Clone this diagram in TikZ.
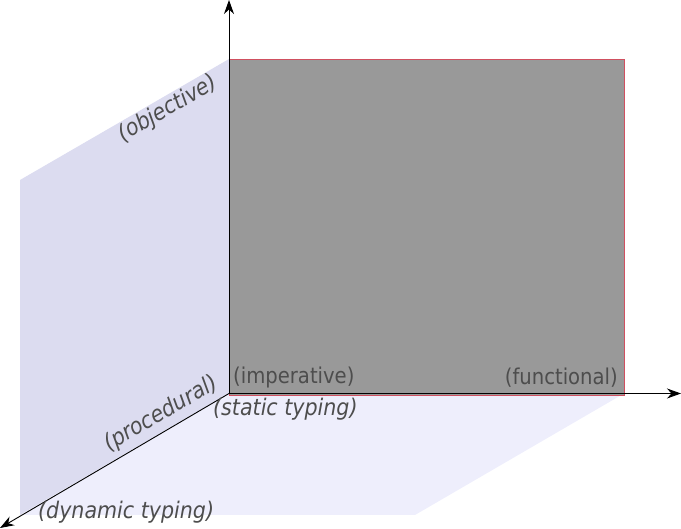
\documentclass[tikz,border=0pt]{standalone}
\usepackage{fontspec}
\setmainfont{DejaVu Sans Condensed}
\usetikzlibrary{arrows.meta}
\definecolor{sideplane}{HTML}{DCDCF0}
\definecolor{floorplane}{HTML}{EEEEFC}
\definecolor{wallgray}{HTML}{999999}
\definecolor{labelgray}{HTML}{4D4D4D}
\definecolor{edgered}{HTML}{D05060}
\tikzset{
  axis/.style={line width=0.9pt,-{Stealth[length=14pt,width=10pt,inset=4.5pt]}},
  lbl/.style={text=labelgray,font=\fontsize{21.8}{23}\selectfont,inner sep=0pt},
  ilbl/.style={lbl,font=\fontsize{22.9}{24}\selectfont\itshape},
}
\begin{document}
\begin{tikzpicture}[x=1pt,y=-1pt]
\useasboundingbox (0,0) rectangle (681,529);
\coordinate (O) at (229,393.5);
\coordinate (up) at (229,0);
\coordinate (right) at (681,393.5);
\coordinate (diag) at (0,528);
% planes
\fill[sideplane] (20,180) -- (229,59) -- (229,393.5) -- (20,515) -- cycle;
\fill[floorplane] (229,393.5) -- (624,393.5) -- (415,515) -- (20,515) -- cycle;
\fill[wallgray] (229.5,59) rectangle (624,395);
\draw[edgered,line width=0.8pt] (229.8,59) rectangle (624,395);
% axes
\draw[axis] (O) -- (up);
\draw[axis] (O) -- (right);
\draw[axis] (O) -- (diag);
% labels
\node[lbl,anchor=west] (imp) at (233,377.5) {(imperative)};
\node[lbl,anchor=east] (fun) at (618,377.5) {(functional)};
\node[ilbl,anchor=west] (sta) at (213,409) {(static typing)};
\node[ilbl,anchor=west] (dyn) at (38,512) {(dynamic typing)};
\node[ilbl,rotate=30] (pro) at (161,414) {(procedural)};
\node[ilbl,rotate=30] (obj) at (168,109) {(objective)};
\end{tikzpicture}
\end{document}
